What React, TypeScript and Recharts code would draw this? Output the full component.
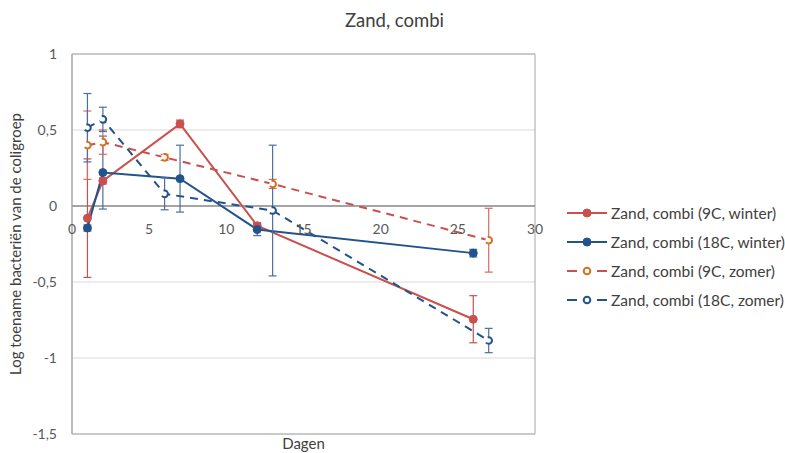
import React from 'react';
import {
  LineChart,
  Line,
  XAxis,
  YAxis,
  CartesianGrid,
  ErrorBar,
  Legend,
  ReferenceLine,
  ReferenceArea,
} from 'recharts';

// ---- data ----
const daysWinter = [1, 2, 7, 12, 26];
const daysZomer = [1, 2, 6, 13, 27];

const winter9C = [-0.08, 0.165, 0.54, -0.13, -0.745];
const winter9CErr = [0.39, 0.02, 0.025, 0.02, 0.155];

const winter18C = [-0.145, 0.22, 0.18, -0.155, -0.31];
const winter18CErr = [0.02, 0.24, 0.22, 0.04, 0.025];

const zomer9C = [0.4, 0.42, 0.32, 0.145, -0.225];
const zomer9CErr = [0.225, 0.08, 0.02, 0.03, 0.21];

const zomer18C = [0.515, 0.57, 0.08, -0.03, -0.885];
const zomer18CErr = [0.225, 0.08, 0.105, 0.43, 0.08];

const seriesNames = [
  'Zand, combi (9C, winter)',
  'Zand, combi (18C, winter)',
  'Zand, combi (9C, zomer)',
  'Zand, combi (18C, zomer)',
];

const xTicks = [0, 5, 10, 15, 20, 25, 30];
const yTicks = [1, 0.5, 0, -0.5, -1, -1.5];

const title = 'Zand, combi';
const xLabel = 'Dagen';
const yLabel = 'Log toename bacteriën van de coligroep';

// ---- build tables ----
const build = (xs: number[], ys: number[], es: number[]) =>
  xs.map((x, i) => ({ x, y: ys[i], err: es[i] }));

const dataW9 = build(daysWinter, winter9C, winter9CErr);
const dataW18 = build(daysWinter, winter18C, winter18CErr);
const dataZ9 = build(daysZomer, zomer9C, zomer9CErr);
const dataZ18 = build(daysZomer, zomer18C, zomer18CErr);

// ---- styles ----
const RED = '#c9504d';
const BLUE = '#23538c';
const ORANGE = '#d2731c';
const FONT = 'Lato, "Open Sans", sans-serif';
const TEXT = '#595959';

const W = 785;
const H = 453;
const M = { top: 54, right: 250, bottom: 0, left: 10 };
const Y_AXIS_W = 62;
const X_AXIS_H = 19;
const Y_MIN = -1.5;
const Y_MAX = 1;
const PLOT_H = H - M.top - M.bottom - X_AXIS_H;
const ZERO_PX = M.top + (PLOT_H * (Y_MAX - 0)) / (Y_MAX - Y_MIN);

const legendStyles = [
  { line: RED, dash: false, fill: RED, stroke: RED, r: 4 },
  { line: BLUE, dash: false, fill: BLUE, stroke: BLUE, r: 4 },
  { line: RED, dash: true, fill: '#fff', stroke: ORANGE, r: 3.3 },
  { line: BLUE, dash: true, fill: '#fff', stroke: BLUE, r: 3.3 },
];

const fmt = (v: number) => String(v).replace('.', ',');

const XTick = (props: any) => {
  const { x, payload } = props;
  return (
    <text
      x={x}
      y={ZERO_PX + 28}
      textAnchor="middle"
      fill={TEXT}
      fontSize={14}
      fontFamily={FONT}
    >
      {fmt(payload.value)}
    </text>
  );
};

const renderLegend = (props: any) => {
  const payload = [...(props.payload || [])].sort(
    (a: any, b: any) => seriesNames.indexOf(a.value) - seriesNames.indexOf(b.value),
  );
  return (
    <div style={{ fontFamily: FONT, fontSize: 15.5, color: '#404040' }}>
      {payload.map((entry: any, i: number) => {
        const idx = seriesNames.indexOf(entry.value);
        const s = legendStyles[idx >= 0 ? idx : i];
        return (
          <div
            key={entry.value}
            style={{ display: 'flex', alignItems: 'center', height: 29, whiteSpace: 'nowrap' }}
          >
            <svg width={44} height={12} style={{ marginRight: 2 }}>
              {s.dash ? (
                <>
                  <line x1={2} y1={6} x2={12} y2={6} stroke={s.line} strokeWidth={2} />
                  <line x1={32} y1={6} x2={42} y2={6} stroke={s.line} strokeWidth={2} />
                </>
              ) : (
                <line x1={2} y1={6} x2={42} y2={6} stroke={s.line} strokeWidth={2} />
              )}
              <circle
                cx={22}
                cy={6}
                r={s.r}
                fill={s.fill}
                stroke={s.stroke}
                strokeWidth={s.dash ? 2 : 1}
              />
            </svg>
            <span>{entry.value}</span>
          </div>
        );
      })}
    </div>
  );
};

export default function App() {
  return (
    <div
      style={{
        position: 'absolute',
        left: 0,
        top: 0,
        width: W,
        height: H,
        background: '#fff',
        overflow: 'hidden',
      }}
    >
      <div
        style={{
          position: 'absolute',
          left: 0,
          top: 9,
          width: W,
          textAlign: 'center',
          fontFamily: FONT,
          fontSize: 18.5,
          color: '#404040',
          paddingLeft: 2,
        }}
      >
        {title}
      </div>
      <LineChart width={W} height={H} margin={M}>
        <CartesianGrid vertical={false} stroke="#d9d9d9" strokeWidth={1} />
        <XAxis
          type="number"
          dataKey="x"
          domain={[0, 30]}
          ticks={xTicks}
          axisLine={false}
          tickLine={false}
          height={X_AXIS_H}
          tick={<XTick />}
          allowDataOverflow
          label={{
            value: xLabel,
            position: 'insideBottom',
            offset: 4,
            style: { fontFamily: FONT, fontSize: 15, fill: '#404040' },
          }}
        />
        <YAxis
          type="number"
          domain={[Y_MIN, Y_MAX]}
          ticks={yTicks}
          width={Y_AXIS_W}
          axisLine={{ stroke: '#a6a6a6' }}
          tickLine={false}
          tickSize={0}
          tickMargin={15}
          tickFormatter={fmt}
          tick={{ fill: TEXT, fontSize: 14, fontFamily: FONT }}
          allowDataOverflow
          label={{
            value: yLabel,
            angle: -90,
            position: 'insideLeft',
            offset: 6,
            style: { textAnchor: 'middle', fontFamily: FONT, fontSize: 15, fill: '#404040' },
          }}
        />
        <ReferenceArea
          x1={0}
          x2={30}
          y1={Y_MIN}
          y2={Y_MAX}
          fill="none"
          fillOpacity={0}
          stroke="#a6a6a6"
          strokeWidth={1}
          ifOverflow="visible"
        />
        <ReferenceLine y={0} stroke="#8c8c8c" strokeWidth={1.5} />
        <Legend
          layout="vertical"
          align="center"
          verticalAlign="middle"
          content={renderLegend}
          wrapperStyle={{ left: 565, top: 198, width: 220 }}
        />
        <Line
          data={dataW9}
          dataKey="y"
          name={seriesNames[0]}
          stroke={RED}
          strokeWidth={2}
          dot={{ r: 4, fill: RED, stroke: RED, strokeWidth: 1 }}
          isAnimationActive={false}
        >
          <ErrorBar dataKey="err" direction="y" width={4} stroke={RED} strokeWidth={1.2} />
        </Line>
        <Line
          data={dataW18}
          dataKey="y"
          name={seriesNames[1]}
          stroke={BLUE}
          strokeWidth={2}
          dot={{ r: 4, fill: BLUE, stroke: BLUE, strokeWidth: 1 }}
          isAnimationActive={false}
        >
          <ErrorBar dataKey="err" direction="y" width={4} stroke="#4a6fa0" strokeWidth={1.2} />
        </Line>
        <Line
          data={dataZ9}
          dataKey="y"
          name={seriesNames[2]}
          stroke={RED}
          strokeWidth={2}
          strokeDasharray="8 6"
          dot={{ r: 3.3, fill: '#fff', stroke: ORANGE, strokeWidth: 2 }}
          isAnimationActive={false}
        >
          <ErrorBar dataKey="err" direction="y" width={4} stroke="#d86a66" strokeWidth={1.2} />
        </Line>
        <Line
          data={dataZ18}
          dataKey="y"
          name={seriesNames[3]}
          stroke={BLUE}
          strokeWidth={2}
          strokeDasharray="8 6"
          dot={{ r: 3.3, fill: '#fff', stroke: BLUE, strokeWidth: 2 }}
          isAnimationActive={false}
        >
          <ErrorBar dataKey="err" direction="y" width={4} stroke="#4a6fa0" strokeWidth={1.2} />
        </Line>
      </LineChart>
    </div>
  );
}
